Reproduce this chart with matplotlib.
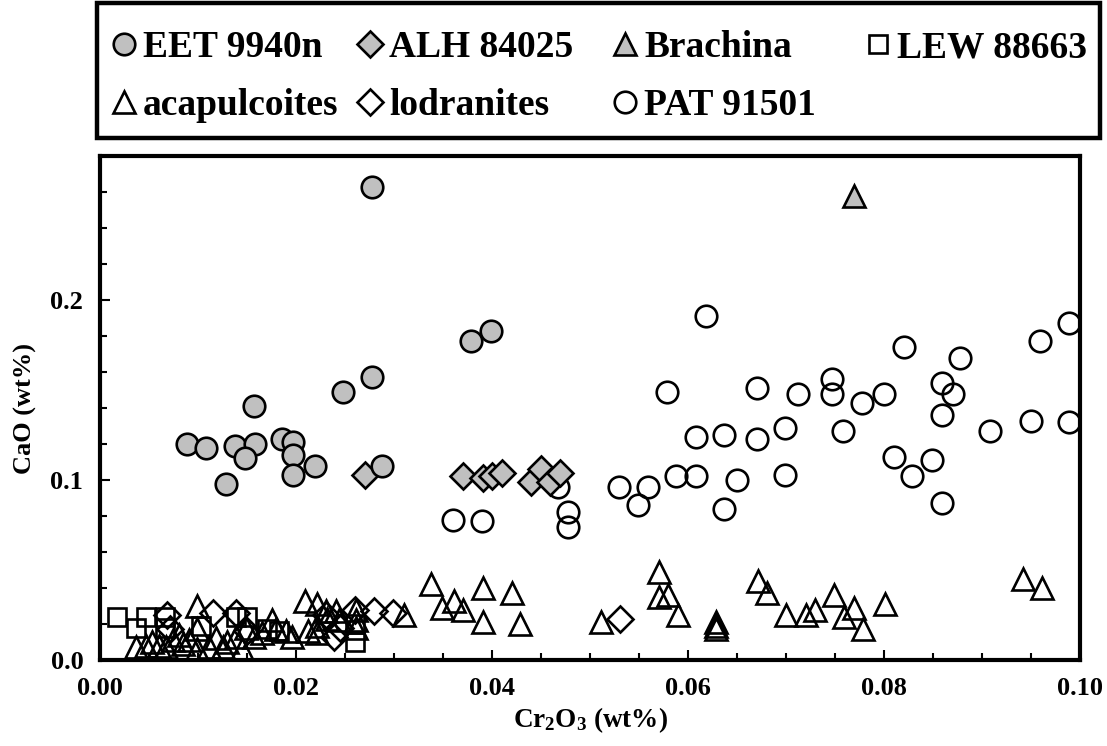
import numpy as np
import matplotlib
matplotlib.use("Agg")
import matplotlib.pyplot as plt
from matplotlib.ticker import MultipleLocator, FormatStrFormatter
from matplotlib.patches import Rectangle

plt.rcParams['font.family'] = ['Liberation Serif', 'DejaVu Serif']
plt.rcParams['font.weight'] = 'bold'
plt.rcParams['mathtext.fontset'] = 'custom'
plt.rcParams['mathtext.rm'] = 'Liberation Serif:bold'
plt.rcParams['mathtext.default'] = 'rm'

# EET 9940n (grey circles)
eet_x = [0.0278, 0.0379, 0.0399, 0.0278, 0.0248, 0.0157, 0.0089, 0.0108, 0.0138,
         0.0158, 0.0148, 0.0129, 0.0186, 0.0197, 0.0197, 0.0197, 0.0219, 0.0288]
eet_y = [0.263, 0.177, 0.183, 0.157, 0.149, 0.141, 0.120, 0.118, 0.119,
         0.120, 0.112, 0.098, 0.123, 0.121, 0.114, 0.103, 0.108, 0.108]

# ALH 84025 (grey diamonds)
alh_x = [0.0270, 0.0370, 0.0391, 0.0400, 0.0410, 0.0440, 0.0450, 0.0459, 0.0469]
alh_y = [0.103, 0.102, 0.101, 0.102, 0.104, 0.099, 0.106, 0.099, 0.104]

# Brachina (grey triangle)
bra_x = [0.0769]
bra_y = [0.258]

# LEW 88663 (open squares)
lew_x = [0.0017, 0.0037, 0.0047, 0.0066, 0.0066, 0.0103, 0.0139, 0.0150, 0.0170,
         0.0183, 0.0260, 0.0260]
lew_y = [0.024, 0.018, 0.024, 0.024, 0.018, 0.019, 0.024, 0.024, 0.017,
         0.016, 0.020, 0.010]

# acapulcoites (open triangles)
aca_x = [0.0037, 0.0047, 0.0053, 0.0060, 0.0067, 0.0074, 0.0081, 0.0091, 0.0099,
         0.0099, 0.0099, 0.0111, 0.0125, 0.0139, 0.0145, 0.0149, 0.0157, 0.0176,
         0.0180, 0.0196, 0.0085, 0.0118, 0.0130, 0.0165, 0.0190,
         0.0209, 0.0221, 0.0231, 0.0241, 0.0261, 0.0221, 0.0221, 0.0232, 0.0244,
         0.0261, 0.0261, 0.0310, 0.0212,
         0.0338, 0.0349, 0.0361, 0.0370, 0.0391, 0.0391, 0.0420, 0.0429, 0.0511,
         0.0570, 0.0570, 0.0580, 0.0590,
         0.0629, 0.0629, 0.0629, 0.0671, 0.0681, 0.0700, 0.0720, 0.0730, 0.0749,
         0.0759, 0.0769, 0.0779, 0.0801, 0.0942, 0.0961]
aca_y = [0.007, 0.008, 0.010, 0.008, 0.007, 0.011, 0.014, 0.011, 0.030,
         0.017, 0.006, 0.007, 0.007, 0.013, 0.006, 0.018, 0.013, 0.022,
         0.017, 0.013, 0.009, 0.012, 0.010, 0.015, 0.016,
         0.033, 0.031, 0.027, 0.027, 0.028, 0.019, 0.015, 0.023, 0.022,
         0.022, 0.018, 0.025, 0.016,
         0.042, 0.029, 0.033, 0.028, 0.040, 0.021, 0.037, 0.020, 0.021,
         0.049, 0.035, 0.036, 0.025,
         0.021, 0.019, 0.017, 0.044, 0.037, 0.025, 0.025, 0.028, 0.036,
         0.024, 0.029, 0.017, 0.031, 0.045, 0.040]

# lodranites (open diamonds)
lod_x = [0.0068, 0.0071, 0.0115, 0.0139, 0.0150, 0.0231, 0.0239, 0.0245, 0.0260,
         0.0280, 0.0299, 0.0531]
lod_y = [0.025, 0.017, 0.026, 0.026, 0.016, 0.025, 0.013, 0.018, 0.028,
         0.027, 0.026, 0.023]

# PAT 91501 (open circles)
pat_x = [0.0360, 0.0390, 0.0467, 0.0478, 0.0478,
         0.0618, 0.0579, 0.0670, 0.0712, 0.0608, 0.0637, 0.0670, 0.0699, 0.0530,
         0.0559, 0.0549, 0.0588, 0.0608, 0.0650, 0.0699, 0.0637,
         0.0989, 0.0959, 0.0820, 0.0878, 0.0747, 0.0747, 0.0859, 0.0870, 0.0800,
         0.0778, 0.0859, 0.0758, 0.0908, 0.0950, 0.0989, 0.0810, 0.0829, 0.0849,
         0.0859]
pat_y = [0.078, 0.077, 0.096, 0.082, 0.074,
         0.191, 0.149, 0.151, 0.148, 0.124, 0.125, 0.123, 0.129, 0.096,
         0.096, 0.086, 0.102, 0.102, 0.100, 0.103, 0.084,
         0.187, 0.177, 0.174, 0.168, 0.156, 0.148, 0.154, 0.148, 0.148,
         0.143, 0.136, 0.127, 0.127, 0.133, 0.132, 0.113, 0.102, 0.111,
         0.087]

grey = '#c0c0c0'
W, H = 1107, 746
fig = plt.figure(figsize=(W / 100, H / 100), dpi=100)
ax = fig.add_axes([100 / W, 86 / H, 980 / W, 504 / H])

ms = 15.5
lw = 1.9
ax.plot(lew_x, lew_y, 's', ms=13, mfc='none', mec='black', mew=lw, label='LEW 88663')
ax.plot(aca_x, aca_y, '^', ms=ms, mfc='none', mec='black', mew=lw, label='acapulcoites')
ax.plot(lod_x, lod_y, 'D', ms=13.5, mfc='none', mec='black', mew=lw, label='lodranites')
ax.plot(pat_x, pat_y, 'o', ms=ms, mfc='none', mec='black', mew=lw, label='PAT 91501')
ax.plot(alh_x, alh_y, 'D', ms=13.5, mfc=grey, mec='black', mew=lw, label='ALH 84025')
ax.plot(eet_x, eet_y, 'o', ms=ms, mfc=grey, mec='black', mew=lw, label='EET 9940n')
ax.plot(bra_x, bra_y, '^', ms=ms, mfc=grey, mec='black', mew=lw, label='Brachina')

ax.set_xlim(0, 0.10)
ax.set_ylim(0, 0.28)
ax.xaxis.set_major_locator(MultipleLocator(0.02))
ax.xaxis.set_minor_locator(MultipleLocator(0.005))
ax.yaxis.set_major_locator(MultipleLocator(0.1))
ax.yaxis.set_minor_locator(MultipleLocator(0.02))
ax.xaxis.set_major_formatter(FormatStrFormatter('%.2f'))
ax.yaxis.set_major_formatter(FormatStrFormatter('%.1f'))
ax.tick_params(which='both', direction='in', width=1.5, labelsize=19)
ax.tick_params(which='major', length=7, pad=12)
ax.tick_params(which='minor', length=5)
for s in ax.spines.values():
    s.set_linewidth(3)

ax.set_xlabel(r'Cr$_{2}$O$_{3}$ (wt%)', fontsize=19.5, fontweight='bold', labelpad=4)
ax.set_ylabel('CaO (wt%)', fontsize=19, fontweight='bold', labelpad=10)

# legend: four equal-width columns inside one box, like the spreadsheet original
h, l = ax.get_legend_handles_labels()
hd = dict(zip(l, h))
columns = [['EET 9940n', 'acapulcoites'],
           ['ALH 84025', 'lodranites'],
           ['Brachina', 'PAT 91501'],
           ['LEW 88663']]
col_left = [112, 358, 613, 866]
for names, x0 in zip(columns, col_left):
    lg = fig.legend([hd[n] for n in names], names, loc='upper left',
                    bbox_to_anchor=(x0 / W, 1 - 30 / H), fontsize=27,
                    frameon=False, borderpad=0, borderaxespad=0,
                    labelspacing=0.62, handletextpad=0.18, handlelength=0.65)

fig.patches.append(Rectangle((97 / W, 1 - 138 / H), 1003 / W, 135 / H,
                             transform=fig.transFigure, fill=False,
                             edgecolor='black', linewidth=3.2))

fig.savefig('out.png', dpi=100)
